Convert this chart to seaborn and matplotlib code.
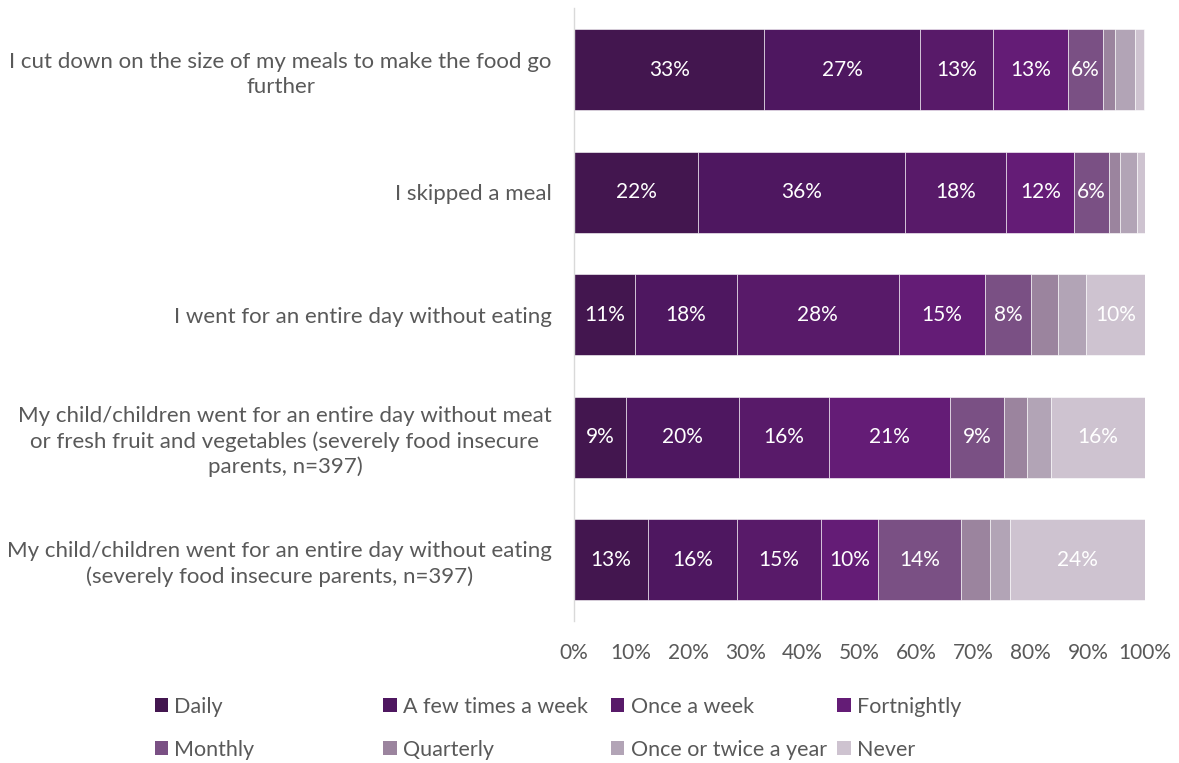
import numpy as np
import pandas as pd
import matplotlib
matplotlib.use("Agg")
import matplotlib.pyplot as plt
import seaborn as sns
from matplotlib.patches import Patch

# statements (top to bottom)
statements = [
    "I cut down on the size of my meals to make the food go\nfurther",
    "I skipped a meal",
    "I went for an entire day without eating",
    "My child/children went for an entire day without meat\nor fresh fruit and vegetables (severely food insecure\nparents, n=397)",
    "My child/children went for an entire day without eating\n(severely food insecure parents, n=397)",
]

frequencies = ["Daily", "A few times a week", "Once a week", "Fortnightly",
               "Monthly", "Quarterly", "Once or twice a year", "Never"]

# percentages, one list per frequency
daily = [33.3, 21.7, 10.7, 9.1, 12.9]
few_times_week = [27.3, 36.3, 17.8, 19.8, 15.6]
once_week = [12.8, 17.7, 28.4, 15.8, 14.7]
fortnightly = [13.1, 11.9, 15.1, 21.2, 10.0]
monthly = [6.1, 6.1, 8.0, 9.4, 14.5]
quarterly = [2.1, 1.9, 4.7, 4.0, 5.1]
once_twice_year = [3.5, 3.0, 4.9, 4.2, 3.5]
never = [1.6, 1.4, 10.4, 16.5, 23.7]

series = [daily, few_times_week, once_week, fortnightly,
          monthly, quarterly, once_twice_year, never]

colors = ["#43164F", "#4E1760", "#581A69", "#641C76",
          "#7A5084", "#9B849E", "#B2A4B6", "#CEC3D0"]

# series that never get a data label in the original
no_label = {"Quarterly", "Once or twice a year"}

sns.set_style("white")
plt.rcParams['font.family'] = ['Lato', 'DejaVu Sans']
grey = "#595959"

fig = plt.figure(figsize=(11.79, 7.63), dpi=100)
ax = fig.add_axes([0.4869, 0.1863, 0.4843, 0.8026])

left = np.zeros(len(statements))
for name, vals, col in zip(frequencies, series, colors):
    df = pd.DataFrame({"statement": statements, "pct": vals})
    sns.barplot(data=df, x="pct", y="statement", orient="h", color=col,
                left=left, width=0.66, edgecolor="#FFFFFF", linewidth=0.4,
                saturation=1, ax=ax)
    if name not in no_label:
        for i, v in enumerate(vals):
            if v >= 5.5:
                ax.text(left[i] + v / 2, i, f"{v:.0f}%", ha="center", va="center",
                        color="white", fontsize=15)
    left = left + np.array(vals)

ax.set_xlim(0, 100)
ax.set_ylim(4.5, -0.5)
ax.set_xticks(np.arange(0, 101, 10))
ax.set_xticklabels([f"{t}%" for t in range(0, 101, 10)], color=grey, fontsize=15)
ax.set_yticks(range(len(statements)))
ax.set_yticklabels(statements, color=grey, fontsize=16, multialignment="center",
                   linespacing=1.3)
ax.tick_params(axis="both", length=0)
ax.tick_params(axis="y", pad=16)
ax.tick_params(axis="x", pad=16)
ax.set_xlabel("")
ax.set_ylabel("")
for s in ["top", "right", "bottom"]:
    ax.spines[s].set_visible(False)
ax.spines["left"].set_color("#D9D9D9")
ax.spines["left"].set_linewidth(1)

# legend: four columns of two entries, placed like the original
col_x = [0.122, 0.316, 0.509, 0.701]
for c in range(4):
    handles = [Patch(facecolor=colors[c], edgecolor="none", label=frequencies[c]),
               Patch(facecolor=colors[c + 4], edgecolor="none", label=frequencies[c + 4])]
    fig.legend(handles=handles, loc="upper left", bbox_to_anchor=(col_x[c], 0.101),
               frameon=False, fontsize=15.5, handlelength=0.62, handleheight=0.62,
               handletextpad=0.3, labelspacing=1.08, borderpad=0, labelcolor=grey)

plt.savefig("out.png", dpi=100)
plt.close()
